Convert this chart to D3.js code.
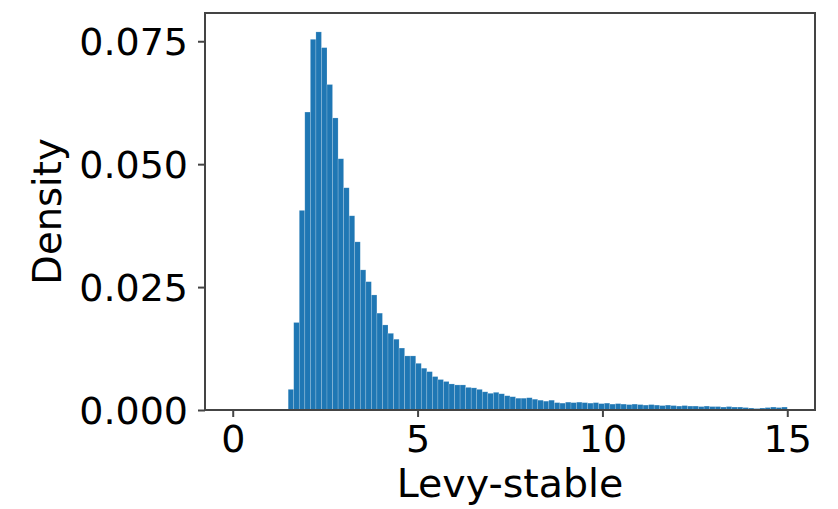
<!DOCTYPE html>
<html><head><meta charset="utf-8">
<script src="https://cdn.jsdelivr.net/npm/d3@7"></script>
<style>body{margin:0;background:#fff}svg{display:block}text{font-family:"DejaVu Sans",sans-serif;fill:#000}</style>
</head><body><svg id="c" width="838" height="509"></svg>
<script>
// Histogram: 100 bins over [0, 15], bin width 0.15
const binStart = 0, binWidth = 0.15;
const densities = [
0,0,0,0,0,0,0,0,0,0.0002,
0.0042,0.0178,0.0406,0.0606,0.0754,0.0769,0.0737,0.0662,0.0594,0.0511,
0.0452,0.0395,0.0342,0.0285,0.0261,0.0234,0.0197,0.0173,0.0156,0.0144,
0.0126,0.0110,0.0110,0.0095,0.0085,0.0078,0.0068,0.0062,0.0058,0.0053,
0.0051,0.0051,0.0046,0.0045,0.0042,0.0037,0.0034,0.0036,0.0033,0.0029,
0.0027,0.0024,0.0024,0.0025,0.0022,0.0020,0.0018,0.0020,0.0015,0.0014,
0.0016,0.0015,0.0016,0.0015,0.0014,0.0015,0.0013,0.0014,0.0012,0.0013,
0.0012,0.0011,0.0012,0.0011,0.0010,0.0011,0.0010,0.0009,0.0010,0.0009,
0.0008,0.0009,0.0008,0.0008,0.0007,0.0008,0.0007,0.0007,0.0006,0.0007,
0.0006,0.0006,0.0005,0.0004,0.0003,0.0004,0.0005,0.0006,0.0005,0.0006
];
const xTicks = [0, 5, 10, 15];
const yTicks = [0, 0.025, 0.05, 0.075];
const xLabel = "Levy-stable", yLabel = "Density";

const svg = d3.select("#c");
const L = 205, R = 815, T = 13, B = 410;
const xMin = binStart, xMax = binStart + binWidth * densities.length;
const pad = (xMax - xMin) * 0.05;
const x = d3.scaleLinear().domain([xMin - pad, xMax + pad]).range([L, R]);
const y = d3.scaleLinear().domain([0, d3.max(densities) * 1.05]).range([B, T]);

svg.append("g").selectAll("rect").data(densities).join("rect")
  .attr("x", (d, i) => x(binStart + i * binWidth))
  .attr("width", (d, i) => x(binStart + (i + 1) * binWidth) - x(binStart + i * binWidth))
  .attr("y", d => y(d))
  .attr("height", d => B - y(d))
  .attr("fill", "#1f77b4")
  .attr("stroke", "rgba(255,255,255,0.3)")
  .attr("stroke-width", 0.6);

const ax = svg.append("g").attr("transform", `translate(0,${B})`)
  .call(d3.axisBottom(x).tickValues(xTicks).tickFormat(d3.format("d")).tickSize(7).tickPadding(8));
const ay = svg.append("g").attr("transform", `translate(${L},0)`)
  .call(d3.axisLeft(y).tickValues(yTicks).tickFormat(d3.format(".3f")).tickSize(7).tickPadding(10));
[ax, ay].forEach(g => {
  g.select(".domain").remove();
  g.selectAll(".tick line").attr("stroke", "#444").attr("stroke-width", 2);
  g.selectAll(".tick text").attr("font-size", 38).attr("font-family", "DejaVu Sans").attr("fill", "#111");
});
ay.selectAll(".tick text").attr("dy", "0.36em");

svg.append("rect").attr("x", L).attr("y", T).attr("width", R - L).attr("height", B - T)
  .attr("fill", "none").attr("stroke", "#444").attr("stroke-width", 2);

svg.append("text").attr("x", (L + R) / 2).attr("y", 497).attr("text-anchor", "middle")
  .attr("font-size", 39.5).attr("fill", "#111").text(xLabel);
svg.append("text").attr("transform", `translate(61,${(T + B) / 2}) rotate(-90)`)
  .attr("text-anchor", "middle").attr("font-size", 38.5).attr("fill", "#111").text(yLabel);
</script></body></html>
